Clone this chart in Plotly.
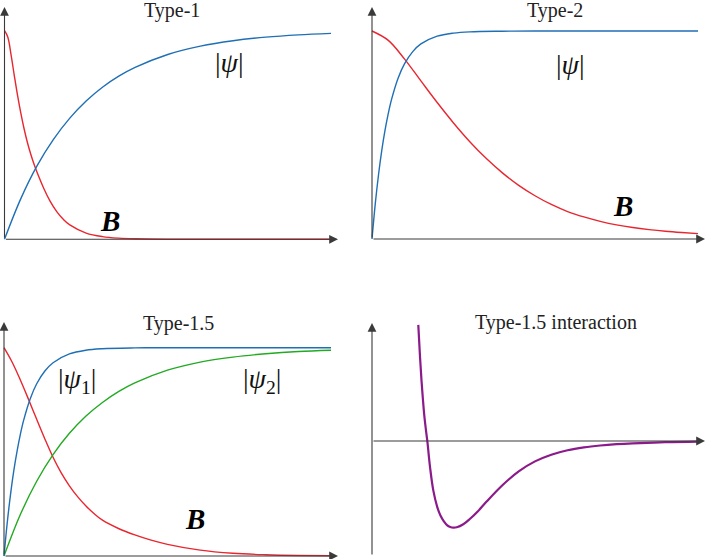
import plotly.graph_objects as go

W, H = 706, 559

BLUE = "#1f6fb5"
RED = "#e8262f"
GREEN = "#22aa22"
PURPLE = "#8b1a8b"
AXIS = "#3a3a3a"
SERIF = "Liberation Serif"

# Type-1: |psi| and B against r
r1_psi = [0, 0.5, 1, 1.5, 2, 2.5, 3, 3.5, 4, 5, 6, 7, 8, 9, 10]
psi_1 = [0, 0.195, 0.353, 0.479, 0.581, 0.663, 0.729, 0.782, 0.824, 0.886, 0.926, 0.952, 0.969, 0.980, 0.987]
r1_B = [0, 0.1, 0.2, 0.3, 0.4, 0.5, 0.6, 0.7, 0.8, 0.9, 1.0, 1.2, 1.4, 1.6, 1.8, 2.0, 2.5, 3.0, 3.5, 4, 5, 6, 8, 10]
B_1 = [1.0, 0.97, 0.885, 0.785, 0.69, 0.605, 0.53, 0.465, 0.41, 0.362, 0.32, 0.245, 0.182, 0.133, 0.096,
       0.069, 0.03, 0.013, 0.0055, 0.0025, 0.0005, 0, 0, 0]

# Type-2
r2_psi = [0, 0.1, 0.2, 0.3, 0.4, 0.5, 0.6, 0.8, 1.0, 1.25, 1.5, 2.0, 2.5, 3.0, 4.0, 5.0, 7.0, 10.0]
psi_2 = [0, 0.169, 0.309, 0.426, 0.523, 0.604, 0.671, 0.773, 0.843, 0.901, 0.938, 0.975, 0.990, 0.996,
         0.999, 1.0, 1.0, 1.0]
r2_B = [0, 0.5, 1.0, 1.5, 2.0, 2.5, 3.0, 3.5, 4.0, 4.5, 5.0, 5.5, 6.0, 6.5, 7.0, 7.5, 8.0, 8.5, 9.0, 9.5, 10.0]
B_2 = [1.0, 0.955, 0.865, 0.76, 0.656, 0.558, 0.468, 0.388, 0.318, 0.258, 0.208, 0.166, 0.132, 0.106,
       0.085, 0.068, 0.055, 0.045, 0.037, 0.031, 0.026]

# Type-1.5: two condensates
r3_psi1 = [0, 0.1, 0.2, 0.3, 0.4, 0.5, 0.6, 0.8, 1.0, 1.25, 1.5, 2.0, 2.5, 3.0, 4.0, 5.0, 7.0, 10.0]
psi1_3 = [0, 0.161, 0.296, 0.41, 0.504, 0.584, 0.651, 0.754, 0.827, 0.888, 0.928, 0.97, 0.988, 0.995,
          0.999, 1.0, 1.0, 1.0]
r3_psi2 = [0, 0.5, 1, 1.5, 2, 2.5, 3, 3.5, 4, 5, 6, 7, 8, 9, 10]
psi2_3 = [0, 0.199, 0.359, 0.487, 0.589, 0.671, 0.736, 0.789, 0.831, 0.892, 0.931, 0.955, 0.971, 0.982, 0.988]
r3_B = [0, 0.25, 0.5, 0.75, 1.0, 1.25, 1.5, 1.75, 2.0, 2.25, 2.5, 2.75, 3.0, 3.5, 4.0, 4.5, 5.0, 6.0, 7.0,
        8.0, 9.0, 10.0]
B_3 = [1.0, 0.93, 0.845, 0.752, 0.656, 0.562, 0.474, 0.399, 0.337, 0.285, 0.241, 0.204, 0.173, 0.132,
       0.101, 0.076, 0.056, 0.028, 0.013, 0.006, 0.0025, 0.001]

# Type-1.5 interaction energy
r4 = [1.42, 1.47, 1.52, 1.56, 1.60, 1.65, 1.70, 1.78, 1.88, 2.0, 2.1, 2.2, 2.3, 2.4, 2.5, 2.6, 2.8, 3.0,
      3.25, 3.5, 4.0, 4.5, 5.0, 5.5, 6.0, 6.5, 7.0, 7.5, 8.0, 9.0, 10.0]
V4 = [1.34, 0.99, 0.69, 0.49, 0.31, 0.14, -0.01, -0.30, -0.57, -0.76, -0.86, -0.925, -0.97, -0.993, -1.0,
      -0.995, -0.96, -0.90, -0.81, -0.705, -0.51, -0.35, -0.235, -0.158, -0.107, -0.074, -0.052, -0.037,
      -0.027, -0.014, -0.007]

# panel geometry in pixels: box (l, t, r, b), data origin, px per unit, arrow tips
PANELS = {
    1: dict(box=(0, 0, 350, 252), origin=(4.5, 239.3), scale=(32.65, 208.6), tip=(338, 7), foot=239.3),
    2: dict(box=(356, 0, 706, 252), origin=(372, 239), scale=(32.6, 208), tip=(705, 7), foot=239),
    3: dict(box=(0, 300, 350, 559), origin=(4, 556), scale=(32.7, 208.3), tip=(338, 322), foot=556),
    4: dict(box=(356, 300, 706, 559), origin=(372, 441), scale=(32.6, 86.7), tip=(705, 323), foot=556),
}


def suffix(i):
    return "" if i == 1 else str(i)


def paper(px, py):
    return px / W, 1 - py / H


fig = go.Figure()


def add_curve(panel, x, y, color, width=1.4):
    s = suffix(panel)
    fig.add_trace(go.Scatter(
        x=x, y=y, mode="lines",
        line=dict(color=color, width=width, shape="spline"),
        xaxis="x" + s, yaxis="y" + s, hoverinfo="skip", showlegend=False,
    ))


add_curve(1, r1_B, B_1, RED)
add_curve(1, r1_psi, psi_1, BLUE)
add_curve(2, r2_B, B_2, RED)
add_curve(2, r2_psi, psi_2, BLUE)
add_curve(3, r3_B, B_3, RED)
add_curve(3, r3_psi2, psi2_3, GREEN)
add_curve(3, r3_psi1, psi1_3, BLUE)
add_curve(4, r4, V4, PURPLE, width=2.2)

layout = {}
annotations = []
for i, p in PANELS.items():
    l, t, r, b = p["box"]
    ox, oy = p["origin"]
    sx, sy = p["scale"]
    s = suffix(i)
    layout["xaxis" + s] = dict(domain=[l / W, r / W], range=[(l - ox) / sx, (r - ox) / sx],
                               visible=False, fixedrange=True)
    layout["yaxis" + s] = dict(domain=[1 - b / H, 1 - t / H], range=[(oy - b) / sy, (oy - t) / sy],
                               visible=False, fixedrange=True)
    tx, ty = p["tip"]
    arrow = dict(xref="x" + s, yref="y" + s, axref="x" + s, ayref="y" + s, text="", showarrow=True,
                 arrowhead=2, arrowsize=1.6, arrowwidth=1.1, arrowcolor=AXIS, standoff=0)
    annotations.append(dict(arrow, x=(tx - ox) / sx, y=0, ax=0, ay=0))
    annotations.append(dict(arrow, x=0, y=(oy - ty) / sy, ax=0, ay=(oy - p["foot"]) / sy))

labels = [
    ("Type-1", 172, 10, 20, "#222"),
    ("Type-2", 555, 10, 20, "#222"),
    ("Type-1.5", 179, 323, 20, "#222"),
    ("Type-1.5 interaction", 556, 322, 20, "#222"),
    ("|<i>ψ</i>|", 229, 63, 28, "#111"),
    ("|<i>ψ</i>|", 570, 65, 28, "#111"),
    ("|<i>ψ</i><sub>1</sub>|", 77, 380, 28, "#111"),
    ("|<i>ψ</i><sub>2</sub>|", 262, 380, 28, "#111"),
    ("<b><i>B</i></b>", 110, 221, 29, "#000"),
    ("<b><i>B</i></b>", 623, 206, 29, "#000"),
    ("<b><i>B</i></b>", 195, 519, 29, "#000"),
]
for text, px, py, size, color in labels:
    x, y = paper(px, py)
    annotations.append(dict(xref="paper", yref="paper", x=x, y=y, text=text, showarrow=False,
                            xanchor="center", yanchor="middle",
                            font=dict(family=SERIF, size=size, color=color)))

fig.update_layout(
    width=W, height=H, autosize=False,
    margin=dict(l=0, r=0, t=0, b=0),
    paper_bgcolor="white", plot_bgcolor="white",
    annotations=annotations,
    **layout,
)

fig.write_html("out.html", config={"displayModeBar": False},
               post_script="document.body.style.margin='0';")
